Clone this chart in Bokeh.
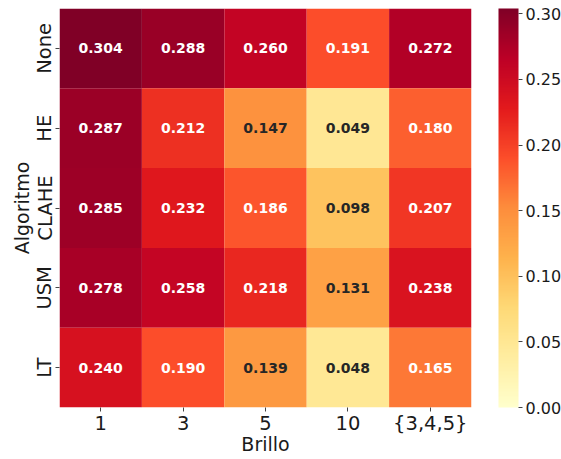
import numpy as np
from bokeh.plotting import figure
from bokeh.models import (ColumnDataSource, LinearColorMapper, ColorBar, FixedTicker,
                          PrintfTickFormatter, FactorRange)
from bokeh.transform import transform
from bokeh.core.properties import value
from bokeh.embed import file_html
from bokeh.resources import INLINE

# ---- data ----
brillo = ["1", "3", "5", "10", "{3,4,5}"]
algoritmos = ["None", "HE", "CLAHE", "USM", "LT"]
row_none = [0.304, 0.288, 0.260, 0.191, 0.272]
row_he = [0.287, 0.212, 0.147, 0.049, 0.180]
row_clahe = [0.285, 0.232, 0.186, 0.098, 0.207]
row_usm = [0.278, 0.258, 0.218, 0.131, 0.238]
row_lt = [0.240, 0.190, 0.139, 0.048, 0.165]
cbar_ticks = [0.00, 0.05, 0.10, 0.15, 0.20, 0.25, 0.30]

rows = [row_none, row_he, row_clahe, row_usm, row_lt]

# ---- colormap (YlOrRd, linear interpolation of ColorBrewer anchors) ----
anchors = ['#ffffcc', '#ffeda0', '#fed976', '#feb24c', '#fd8d3c',
           '#fc4e2a', '#e31a1c', '#bd0026', '#800026']
anc = np.array([[int(c[i:i + 2], 16) for i in (1, 3, 5)] for c in anchors], float)
pos = np.linspace(0, 1, len(anchors))
N = 256
t = np.linspace(0, 1, N)
rgb = np.stack([np.interp(t, pos, anc[:, k]) for k in range(3)], axis=1)
palette = ['#%02x%02x%02x' % tuple(int(round(v)) for v in c) for c in rgb]

vmin = 0.0
vmax = max(max(r) for r in rows)

def lum(hexc):
    c = np.array([int(hexc[i:i + 2], 16) for i in (1, 3, 5)]) / 255.0
    c = np.where(c <= 0.03928, c / 12.92, ((c + 0.055) / 1.055) ** 2.4)
    return 0.2126 * c[0] + 0.7152 * c[1] + 0.0722 * c[2]

xs, ys, vals, labels, tcols = [], [], [], [], []
for a, r in zip(algoritmos, rows):
    for b, v in zip(brillo, r):
        xs.append(b)
        ys.append(a)
        vals.append(v)
        labels.append("%.3f" % v)
        idx = int(min(N - 1, max(0, (v - vmin) / (vmax - vmin) * N)))
        tcols.append("#262626" if lum(palette[idx]) > 0.408 else "#ffffff")

src = ColumnDataSource(dict(x=xs, y=ys, v=vals, label=labels, tc=tcols))

mapper = LinearColorMapper(palette=palette, low=vmin, high=vmax)

p = figure(x_range=FactorRange(*brillo), y_range=FactorRange(*algoritmos[::-1]),
           frame_width=412, frame_height=399,
           min_border_left=59, min_border_right=10, min_border_top=8, min_border_bottom=0,
           output_backend="svg", toolbar_location=None, tools="")
p.outline_line_color = None
p.grid.grid_line_color = None
p.background_fill_color = "white"

p.rect(x="x", y="y", width=1, height=1, source=src,
       fill_color=transform("v", mapper), line_color=None)
p.text(x="x", y="y", text="label", source=src, text_color="tc",
       text_align="center", text_baseline="middle",
       text_font=value("DejaVu Sans"), text_font_style="bold", text_font_size="14px")

for ax in (p.xaxis[0], p.yaxis[0]):
    ax.axis_line_color = None
    ax.major_tick_in = 0
    ax.major_tick_out = 4
    ax.major_tick_line_color = "#444444"
    ax.minor_tick_line_color = None
    ax.major_label_text_font = "DejaVu Sans"
    ax.major_label_text_font_size = "19.5px"
    ax.major_label_text_color = "#1a1a1a"
    ax.axis_label_text_font = "DejaVu Sans"
    ax.axis_label_text_font_size = "19px"
    ax.axis_label_text_font_style = "normal"
    ax.axis_label_text_color = "#1a1a1a"
    ax.major_label_standoff = 2
    ax.axis_label_standoff = 1

p.xaxis.axis_label = "Brillo"
p.yaxis.axis_label = "Algoritmo"
p.yaxis.major_label_orientation = "vertical"
p.xaxis[0].major_label_standoff = 0
p.xaxis[0].axis_label_standoff = -5
p.yaxis[0].major_label_standoff = -1
p.yaxis[0].axis_label_standoff = -2

cb = ColorBar(color_mapper=mapper, ticker=FixedTicker(ticks=cbar_ticks),
              formatter=PrintfTickFormatter(format="%.2f"),
              width=20, height=399, padding=0, margin=0,
              location=(27, 0),
              bar_line_color=None, border_line_color=None, background_fill_color=None,
              major_tick_in=0, major_tick_out=4, major_tick_line_color="#444444",
              minor_tick_line_color=None,
              major_label_text_font="DejaVu Sans", major_label_text_font_size="16px",
              major_label_text_color="#1a1a1a", label_standoff=3)
p.add_layout(cb, "right")

open("out.html", "w").write(file_html(p, INLINE))
